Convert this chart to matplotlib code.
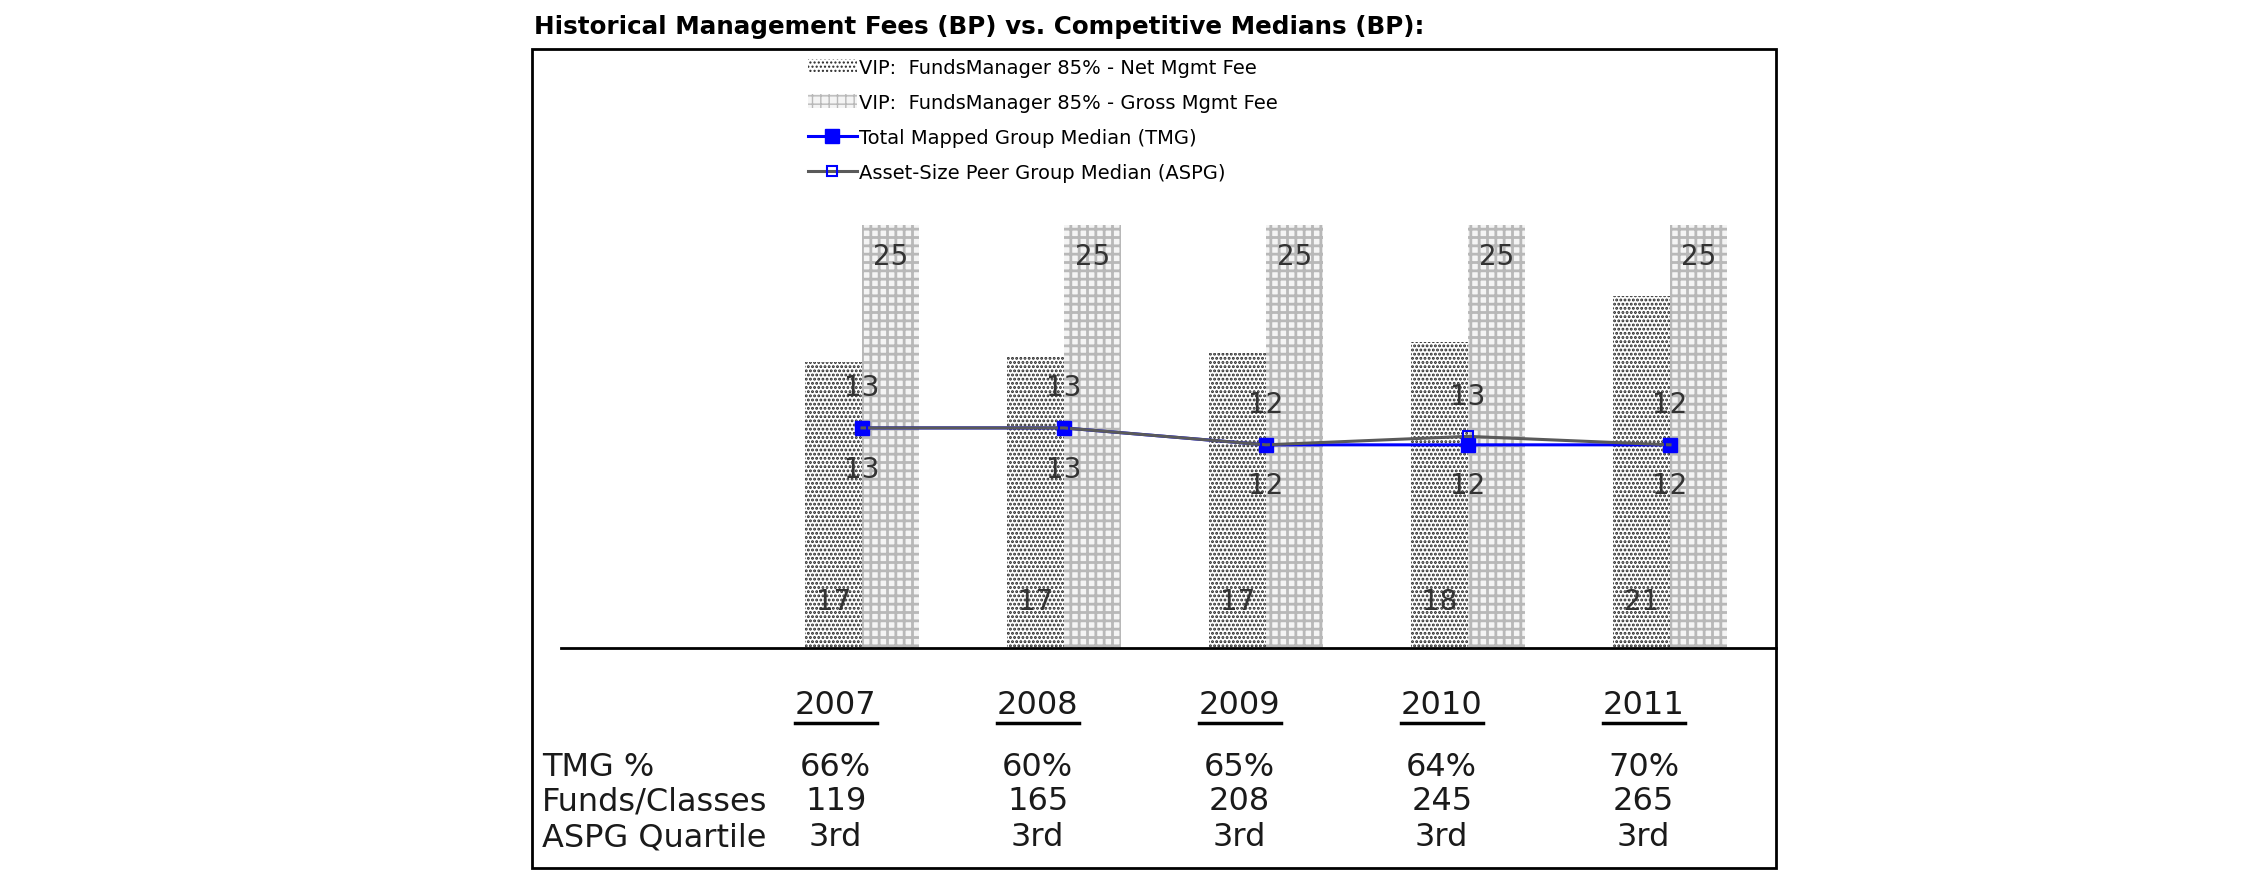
import matplotlib
matplotlib.use('Agg')
import matplotlib.pyplot as plt
import matplotlib.patches as mpatches
from matplotlib.lines import Line2D
from matplotlib.transforms import blended_transform_factory
import numpy as np

plt.rcParams['font.family'] = ['DejaVu Sans']

# ===== data =====
years = ['2007', '2008', '2009', '2010', '2011']
net_fee = [16.9, 17.2, 17.4, 18.1, 20.8]
gross_fee = [25, 25, 25, 25, 25]
tmg_median = [13.0, 13.0, 12.0, 12.0, 12.0]
aspg_median = [13.0, 13.0, 12.0, 12.5, 12.0]

row_labels = ['TMG %', 'Funds/Classes', 'ASPG Quartile']
tmg_pct = ['66%', '60%', '65%', '64%', '70%']
funds_classes = [119, 165, 208, 245, 265]
aspg_quartile = ['3rd', '3rd', '3rd', '3rd', '3rd']

W, H = 2250, 895

NET_STYLE = dict(facecolor='white', edgecolor='#262626', hatch='....', linewidth=0)
GROSS_STYLE = dict(facecolor='#f4f4f4', edgecolor='#b8b8b8', hatch='++', linewidth=0)


def fx(x):
    return x / W


def fy(y):
    return 1 - y / H


def lbl(v):
    return f'{int(v + 0.5)}'


fig = plt.figure(figsize=(W / 100, H / 100), dpi=100)
fig.patch.set_facecolor('white')

# plot area: baseline at y=649px, from x=561 to the right border
ax = fig.add_axes([fx(561), fy(649), fx(1776) - fx(561), fy(50) - fy(649)])
ax.set_facecolor('none')
x = np.arange(len(years))
bw = 0.28

with plt.rc_context({'hatch.linewidth': 1.4}):
    ax.bar(x - bw / 2, net_fee, bw, zorder=2, **NET_STYLE)
    net_handle = mpatches.Patch(**NET_STYLE)
with plt.rc_context({'hatch.linewidth': 2.0}):
    ax.bar(x + bw / 2, gross_fee, bw, zorder=2, **GROSS_STYLE)
    gross_handle = mpatches.Patch(**GROSS_STYLE)

ax.plot(x, tmg_median, '-s', color='#0000ff', linewidth=2.2, markersize=10,
        markeredgecolor='#0000ff', zorder=4)
ax.plot(x, aspg_median, '-s', color='#5a5a5a', linewidth=2.2, markersize=7,
        markerfacecolor='none', markeredgecolor='#0000ff',
        markeredgewidth=1.5, zorder=5)

lab_kw = dict(ha='center', va='center', fontsize=20, color='#333333', zorder=6)
for i in range(len(years)):
    ax.text(x[i] - bw / 2, 2.8, lbl(net_fee[i]), **lab_kw)
    ax.text(x[i] + bw / 2, gross_fee[i] - 1.85, lbl(gross_fee[i]), **lab_kw)
    ax.text(x[i], aspg_median[i] + 2.4, lbl(aspg_median[i]), **lab_kw)
    ax.text(x[i], tmg_median[i] - 2.4, lbl(tmg_median[i]), **lab_kw)

ax.set_xlim((561 - 862) / 202, (1776 - 862) / 202)
ax.set_ylim(0, (649 - 50) / 16.93)
for s in ['top', 'left', 'right']:
    ax.spines[s].set_visible(False)
ax.spines['bottom'].set_linewidth(2)
ax.set_xticks([])
ax.set_yticks([])

# outer frame
fig.patches.append(mpatches.Rectangle((fx(532), fy(869)), fx(1776) - fx(532),
                                      fy(50) - fy(869), transform=fig.transFigure,
                                      fill=False, edgecolor='black', linewidth=2))

fig.text(fx(534), fy(27), 'Historical Management Fees (BP) vs. Competitive Medians (BP):',
         fontsize=17.7, fontweight='bold', ha='left', va='center')

# legend
handles = [
    net_handle,
    gross_handle,
    Line2D([], [], color='#0000ff', linewidth=2.2, marker='s', markersize=10),
    Line2D([], [], color='#5a5a5a', linewidth=2.2, marker='s', markersize=7,
           markerfacecolor='none', markeredgecolor='#0000ff', markeredgewidth=1.5),
]
labels = ['VIP:  FundsManager 85% - Net Mgmt Fee',
          'VIP:  FundsManager 85% - Gross Mgmt Fee',
          'Total Mapped Group Median (TMG)',
          'Asset-Size Peer Group Median (ASPG)']
fig.legend(handles, labels, loc='upper left', bbox_to_anchor=(fx(808), fy(59)),
           frameon=False, fontsize=14, handlelength=2.5, handletextpad=0.1,
           labelspacing=0.82, borderpad=0, borderaxespad=0)

# table below the chart
tr = blended_transform_factory(ax.transData, fig.transFigure)
col_x = x - 0.13
txt_kw = dict(fontsize=23, color='#1a1a1a', va='center')
year_texts = []
for i, yr in enumerate(years):
    year_texts.append(fig.text(col_x[i], fy(706), yr, transform=tr, ha='center', **txt_kw))

rows = [tmg_pct, [str(v) for v in funds_classes], aspg_quartile]
row_y = [768, 802, 838]
for r, (name, vals) in enumerate(zip(row_labels, rows)):
    fig.text(fx(542), fy(row_y[r]), name, ha='left', **txt_kw)
    for i, v in enumerate(vals):
        fig.text(col_x[i], fy(row_y[r]), v, transform=tr, ha='center', **txt_kw)

# underline the years
fig.canvas.draw()
inv = fig.transFigure.inverted()
for t in year_texts:
    bb = t.get_window_extent()
    (x0, _), (x1, _) = inv.transform([(bb.x0, 0), (bb.x1, 0)])
    fig.add_artist(Line2D([x0, x1], [fy(724), fy(724)], transform=fig.transFigure,
                          color='black', linewidth=2.5))

fig.savefig('out.png', dpi=100)
